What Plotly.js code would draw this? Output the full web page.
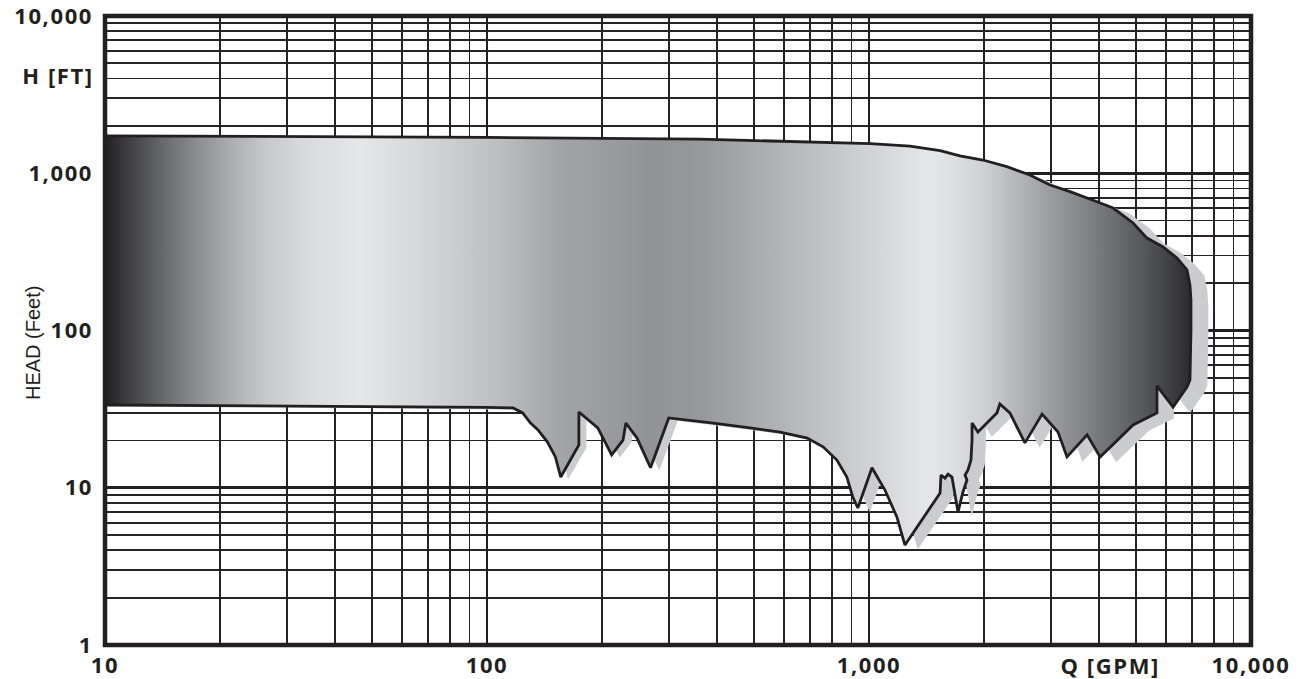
<!DOCTYPE html>
<html><head><meta charset="utf-8">
<script src="https://cdn.plot.ly/plotly-3.0.1.min.js"></script>
<style>
html,body{margin:0;padding:0;background:#fff;}
#chart{width:1313px;height:679px;}
.xtick text,.ytick text{letter-spacing:1.6px;}
.annotation:not([data-index="0"]) text{letter-spacing:1.6px;}
</style></head><body><div id="chart"></div>
<script>
// Upper boundary of the operating range (left to right)
const topQ = [10, 30, 100, 360, 891, 1007, 1280, 1535, 1730, 1986, 2296, 2636, 2978, 3359, 3954, 4354, 4913, 5344, 5886, 6402, 6797, 6922, 6964, 6964, 6922];
const topH = [1730, 1715, 1690, 1650, 1551, 1542, 1490, 1391, 1288, 1214, 1101, 975, 842, 764, 659, 601, 483, 387, 340, 289, 243, 195, 156, 101, 48.4];
// Lower boundary of the operating range (left to right)
const bottomQ = [10, 100, 117, 124, 130, 136, 144, 151, 156, 174, 174, 195, 212, 227, 231, 247, 268, 299, 391, 488, 585, 689, 758, 824, 875, 907, 935, 1018, 1101, 1183, 1242, 1360, 1535, 1543, 1581, 1610, 1649, 1710, 1762, 1805, 1784, 1816, 1849, 1861, 1861, 1928, 2162, 2201, 2338, 2560, 2839, 3124, 3298, 3724, 4027, 4913, 5674, 5674, 6252, 6797];
const bottomH = [33.6, 32.4, 32.2, 29.9, 25.8, 23.3, 19.5, 15.7, 11.7, 18.7, 30.3, 24.0, 16.2, 20.1, 25.8, 20.7, 13.4, 27.8, 25.8, 24.0, 22.6, 20.7, 18.2, 15.0, 11.7, 8.73, 7.43, 13.4, 9.67, 6.52, 4.32, 5.97, 9.26, 12.05, 11.5, 12.2, 11.7, 7.0, 9.4, 11.2, 12.05, 13.0, 15.0, 20.1, 25.8, 22.6, 29.9, 34.1, 29.9, 19.3, 29.4, 22.6, 15.7, 21.7, 15.7, 25.1, 29.9, 44.4, 32.6, 43.7];

// Axis ticks
const xMajor = [10, 100, 1000, 10000];
const xMajorText = ['10', '100', '1,000', '10,000'];
const xMinor = [20, 30, 40, 50, 60, 70, 80, 90, 200, 300, 400, 500, 600, 700, 800, 900, 2000, 3000, 4000, 5000, 6000, 7000, 8000, 9000];
const yMajor = [1, 10, 100, 1000, 10000];
const yMajorText = ['1', '10', '100', '1,000', '10,000'];
const yMinor = [2, 3, 4, 5, 6, 7, 8, 9, 20, 30, 40, 50, 60, 70, 80, 90, 200, 300, 400, 500, 600, 700, 800, 900, 2000, 3000, 4000, 5000, 6000, 7000, 8000, 9000];

// closed outline: top left->right, then bottom right->left
const polyQ = topQ.concat(bottomQ.slice().reverse());
const polyH = topH.concat(bottomH.slice().reverse());

// drop shadow: same outline, nudged right/down on screen
const shadowQ = polyQ.map(q => Math.pow(10, 1 + (Math.log10(q) - 1) * 1.016));
const shadowH = polyH.map((h, i) => h * Math.pow(10, -((Math.log10(polyQ[i]) - 1) / 3) * (6 / 157.25)));

const ink = '#231f20';
const tickFont = {family: 'Open Sans, Lato, sans-serif', size: 22, weight: 700, color: ink};

const traces = [
  {
    x: shadowQ, y: shadowH, type: 'scatter', mode: 'lines',
    fill: 'toself', fillcolor: '#cbcccf', line: {width: 0, color: 'rgba(0,0,0,0)'},
    hoverinfo: 'skip', showlegend: false
  },
  {
    x: polyQ, y: polyH, type: 'scatter', mode: 'lines',
    fill: 'toself',
    fillgradient: {
      type: 'horizontal',
      colorscale: [
        [0, '#231f20'], [0.009, '#2e2c2e'], [0.026, '#454547'], [0.057, '#6c6d70'],
        [0.087, '#8f9093'], [0.118, '#aeafb1'], [0.149, '#c8c9cb'], [0.180, '#d7d8da'],
        [0.235, '#e6e7e8'], [0.302, '#d2d3d5'], [0.364, '#bcbdbf'], [0.419, '#a3a4a7'],
        [0.502, '#929397'], [0.548, '#97989b'], [0.640, '#b9babc'], [0.732, '#dcdddf'],
        [0.760, '#e6e7e8'], [0.808, '#d0d1d3'], [0.840, '#b5b6b8'], [0.870, '#9c9da0'],
        [0.901, '#848588'], [0.932, '#6a6b6e'], [0.962, '#515254'], [0.993, '#333335'],
        [1, '#2a2a2c']
      ]
    },
    line: {color: ink, width: 2.8},
    hoverinfo: 'skip', showlegend: false
  }
];

const layout = {
  width: 1313, height: 679,
  margin: {l: 105, r: 62, t: 16, b: 34},
  paper_bgcolor: '#fff', plot_bgcolor: '#fff',
  showlegend: false,
  xaxis: {
    type: 'log', range: [1, 4],
    tickmode: 'array', tickvals: xMajor, ticktext: xMajorText,
    ticks: '', showline: false, zeroline: false,
    showgrid: true, gridcolor: ink, gridwidth: 2.8,
    tickfont: tickFont, ticklabelstandoff: 5, ticklabeloverflow: 'allow',
    minor: {tickmode: 'array', tickvals: xMinor, showgrid: true, gridcolor: '#262324', gridwidth: 1.8, ticks: ''}
  },
  yaxis: {
    type: 'log', range: [0, 4],
    tickmode: 'array', tickvals: yMajor, ticktext: yMajorText,
    ticks: '', showline: false, zeroline: false,
    showgrid: true, gridcolor: ink, gridwidth: 2.8,
    tickfont: tickFont, ticklabelstandoff: 11, ticklabeloverflow: 'allow',
    minor: {tickmode: 'array', tickvals: yMinor, showgrid: true, gridcolor: '#262324', gridwidth: 1.8, ticks: ''}
  },
  shapes: [
    {type: 'rect', xref: 'paper', yref: 'paper', x0: 0, x1: 1, y0: 0, y1: 1,
     line: {color: ink, width: 4.5}, layer: 'above'}
  ],
  annotations: [
    {text: 'HEAD (Feet)', xref: 'paper', yref: 'paper', x: (33 - 105) / 1146, y: (645 - 343) / 629,
     xanchor: 'center', yanchor: 'middle', textangle: -90, showarrow: false,
     font: {family: 'Liberation Sans Narrow, Liberation Sans, Arial, sans-serif', size: 20, color: ink}},
    {text: 'H [FT]', xref: 'paper', yref: 'paper', x: (91 - 105) / 1146, y: (645 - 75) / 629,
     xanchor: 'right', yanchor: 'middle', showarrow: false, font: tickFont},
    {text: 'Q [GPM]', xref: 'paper', yref: 'paper', x: (1110 - 105) / 1146, y: (645 - 665) / 629,
     xanchor: 'center', yanchor: 'middle', showarrow: false, font: tickFont}
  ]
};

Plotly.newPlot('chart', traces, layout, {displayModeBar: false, staticPlot: true});
</script>
</body></html>
